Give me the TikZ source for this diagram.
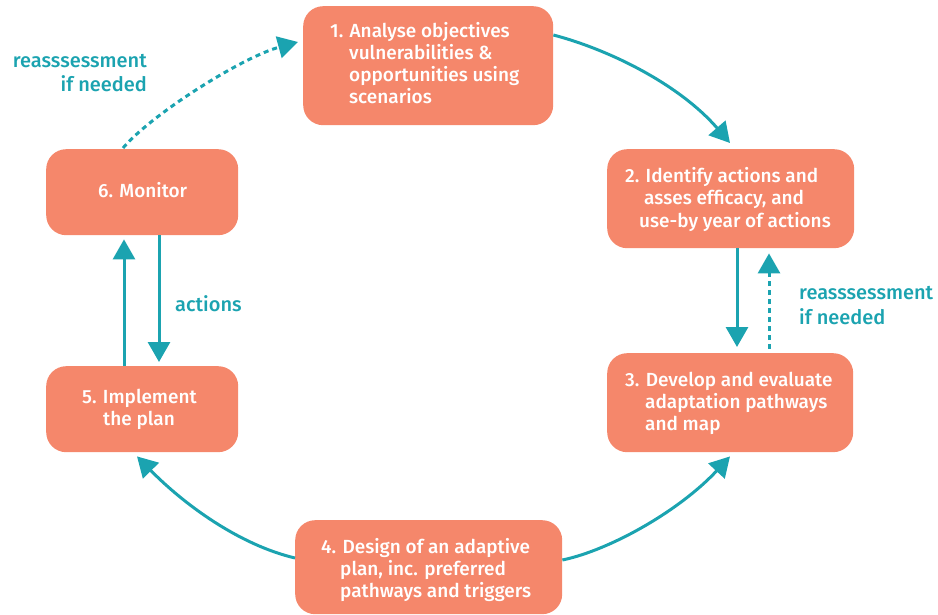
\documentclass[tikz,border=0pt]{standalone}
\usepackage{fontspec}
\setmainfont{Fira Sans}[BoldFont={Fira Sans Medium}]
\usetikzlibrary{arrows.meta,calc}
\definecolor{boxfill}{HTML}{F5876B}
\definecolor{teal}{HTML}{1BA3B0}
\begin{document}
\begin{tikzpicture}[x=1pt,y=-1pt,
  box/.style={draw=none,fill=boxfill,rounded corners=20pt,anchor=north west,inner sep=0pt},
  boxtext/.style={text=white,anchor=base west,align=left,inner sep=0pt,font=\bfseries\fontsize{19}{22}\selectfont},
  lbl/.style={text=teal,inner sep=0pt,font=\bfseries\fontsize{20}{24.5}\selectfont},
  conn/.style={draw=teal,line width=3pt,-{Triangle[length=20pt,width=22pt]}},
  dconn/.style={conn,dash pattern=on 5pt off 4pt}]
\useasboundingbox (0,0) rectangle (938,615);
% boxes
\node[box,minimum width=250pt,minimum height=119pt] (b1) at (303,6) {};
\node[box,minimum width=247pt,minimum height=99pt] (b2) at (607,149) {};
\node[box,minimum width=246pt,minimum height=99pt] (b3) at (607,353) {};
\node[box,minimum width=267pt,minimum height=94pt] (b4) at (295,520) {};
\node[box,minimum width=192pt,minimum height=86pt] (b5) at (46,366) {};
\node[box,minimum width=192pt,minimum height=86pt] (b6) at (46,149) {};
% box texts (anchor = baseline of last line)
\node[boxtext] (t1) at (330,104) {1. Analyse objectives\\\hspace*{19pt}vulnerabilities \&\\\hspace*{19pt}opportunities using\\\hspace*{19pt}scenarios};
\node[boxtext] (t2) at (625,227) {2. Identify actions and\\\hspace*{19pt}asses efficacy, and\\\hspace*{14pt}use-by year of actions};
\node[boxtext] (t3) at (625,430) {3. Develop and evaluate\\\hspace*{20pt}adaptation pathways\\\hspace*{20pt}and map};
\node[boxtext] (t4) at (321,597) {4. Design of an adaptive\\\hspace*{19pt}plan, inc. preferred\\\hspace*{19pt}pathways and triggers};
\node[boxtext] (t5) at (82,425) {5. Implement\\\hspace*{21pt}the plan};
\node[boxtext] (t6) at (98,198) {6. Monitor};
% labels
\node[lbl,anchor=base east,align=right] (l1) at (147,92) {reasssessment\\if needed};
\node[lbl,anchor=base west,align=left] (l2) at (799,324) {reasssessment\\if needed};
\node[lbl,anchor=base west] (l3) at (175,311) {actions};
% connectors
\coordinate (s12) at ($(b1.north east)+(0,29)$);
\coordinate (e12) at ($(b2.north west)+(123,-6)$);
\draw[conn] (s12) .. controls +(57,15) and +(-50,-58) .. (e12);
\coordinate (s43) at ($(b4.north east)+(0,40)$);
\coordinate (e43) at ($(b3.south west)+(123,4)$);
\draw[conn] (s43) .. controls +(48,-10) and +(-50,54) .. (e43);
\coordinate (s45) at ($(b4.north west)+(0,38)$);
\coordinate (e45) at ($(b5.south west)+(91,4)$);
\draw[conn] (s45) .. controls +(-55,-13) and +(48,49) .. (e45);
\coordinate (s61) at ($(b6.north west)+(77,-1)$);
\coordinate (e61) at ($(b1.north west)+(-5,36)$);
\draw[dconn] (s61) .. controls +(30,-35) and +(-55,15) .. (e61);
% vertical arrows
\coordinate (s23) at ($(b2.south west)+(130,0)$);
\coordinate (e23) at ($(b3.north west)+(130,-6)$);
\draw[conn] (s23) -- (e23);
\coordinate (s32) at ($(b3.north west)+(162,-4)$);
\coordinate (e32) at ($(b2.south west)+(162,5)$);
\draw[dconn] (s32) -- (e32);
\coordinate (s56) at ($(b5.north west)+(78,0)$);
\coordinate (e56) at ($(b6.south west)+(78,4)$);
\draw[conn] (s56) -- (e56);
\coordinate (s65) at ($(b6.south west)+(113,0)$);
\coordinate (e65) at ($(b5.north west)+(113,-4)$);
\draw[conn] (s65) -- (e65);
\end{tikzpicture}
\end{document}
